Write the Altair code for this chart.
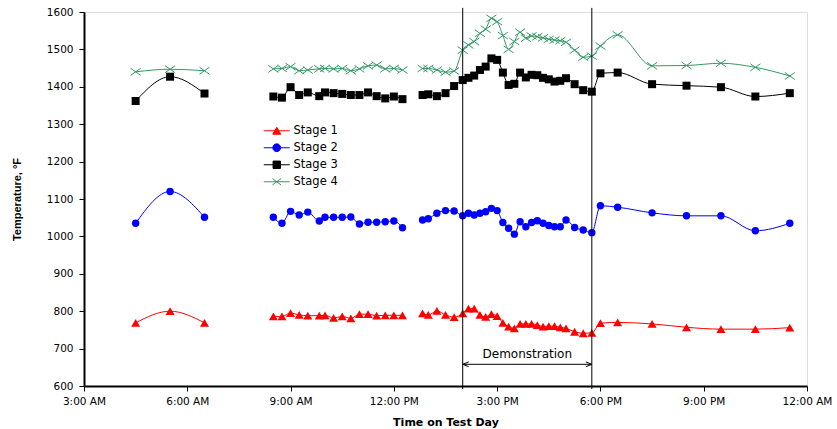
import altair as alt
import pandas as pd

# ---------------- data ----------------
stages = ["Stage 1", "Stage 2", "Stage 3", "Stage 4"]
colors = ["#FF0000", "#0000FF", "#000000", "#339966"]

times_a = ["04:30", "05:30", "06:30"]
times_b = ["08:30", "08:45", "09:00", "09:15", "09:30", "09:50", "10:00", "10:15",
           "10:30", "10:45", "11:00", "11:15", "11:30", "11:45", "12:00", "12:15"]
times_c = ["12:50", "13:00", "13:15", "13:30", "13:45", "14:00", "14:10", "14:20",
           "14:30", "14:40", "14:50", "15:00", "15:10", "15:20", "15:30", "15:40",
           "15:50", "16:00", "16:10", "16:20", "16:30", "16:40", "16:50", "17:00",
           "17:15", "17:30", "17:45", "18:00", "18:30", "19:30", "20:30", "21:30",
           "22:30", "23:30"]

s1_a = [769, 800, 769]
s1_b = [786, 786, 795, 790, 788, 788, 789, 782, 786, 781, 792, 792, 788, 789, 789, 789]
s1_c = [794, 790, 801, 790, 784, 794, 807, 807, 790, 785, 792, 787, 769, 759, 754, 766,
        766, 766, 763, 759, 760, 760, 757, 754, 745, 741, 742, 768, 770, 766, 757, 752,
        752, 756]

s2_a = [1035, 1120, 1051]
s2_b = [1051, 1035, 1067, 1057, 1065, 1041, 1051, 1051, 1051, 1052, 1033, 1038, 1038,
        1039, 1041, 1023]
s2_c = [1044, 1047, 1062, 1069, 1068, 1055, 1062, 1057, 1062, 1066, 1075, 1069, 1037,
        1022, 1006, 1039, 1026, 1037, 1042, 1035, 1029, 1026, 1026, 1044, 1024, 1017,
        1010, 1082, 1078, 1063, 1055, 1055, 1015, 1035]

s3_a = [1362, 1427, 1382]
s3_b = [1374, 1371, 1399, 1378, 1385, 1375, 1385, 1383, 1381, 1378, 1378, 1385, 1375,
        1369, 1374, 1367]
s3_c = [1378, 1380, 1375, 1383, 1402, 1418, 1424, 1430, 1445, 1454, 1476, 1472, 1438,
        1405, 1408, 1438, 1425, 1432, 1431, 1424, 1420, 1414, 1416, 1423, 1407, 1391,
        1387, 1436, 1438, 1407, 1403, 1399, 1374, 1383]

s4_a = [1440, 1447, 1443]
s4_b = [1448, 1449, 1454, 1443, 1445, 1448, 1449, 1448, 1449, 1443, 1448, 1456, 1458,
        1448, 1449, 1445]
s4_c = [1449, 1449, 1445, 1439, 1442, 1498, 1512, 1521, 1543, 1554, 1583, 1574, 1537,
        1500, 1521, 1546, 1530, 1536, 1534, 1531, 1527, 1525, 1523, 1519, 1498, 1479,
        1482, 1509, 1539, 1456, 1457, 1463, 1452, 1429]

demo_start = "14:00"
demo_end = "17:45"
demo_label = "Demonstration"

x_ticks = [3, 6, 9, 12, 15, 18, 21, 24]
y_ticks = [600, 700, 800, 900, 1000, 1100, 1200, 1300, 1400, 1500, 1600]


def hrs(t):
    h, m = t.split(":")
    return int(h) + int(m) / 60.0


series = {
    "Stage 1": [s1_a, s1_b, s1_c],
    "Stage 2": [s2_a, s2_b, s2_c],
    "Stage 3": [s3_a, s3_b, s3_c],
    "Stage 4": [s4_a, s4_b, s4_c],
}
rows = []
for st, segs in series.items():
    for seg_i, (tl, vl) in enumerate(zip([times_a, times_b, times_c], segs)):
        for t, v in zip(tl, vl):
            rows.append({"hour": hrs(t), "temp": v, "stage": st, "seg": seg_i})
df = pd.DataFrame(rows)

demo_df = pd.DataFrame({"start": [hrs(demo_start)], "end": [hrs(demo_end)],
                        "mid": [(hrs(demo_start) + hrs(demo_end)) / 2],
                        "label": [demo_label]})

# ---------------- chart ----------------
W, H = 723, 374
FONT = "DejaVu Sans"

x_scale = alt.Scale(domain=[3, 24], nice=False, zero=False)
y_scale = alt.Scale(domain=[600, 1600], nice=False, zero=False)

x_axis = alt.Axis(
    values=x_ticks,
    labelExpr="timeFormat(datetime(2000, 0, 1, datum.value, 0), '%-I:%M %p')",
    title="Time on Test Day", titleFontWeight="bold", titleFontSize=11,
    titleFont=FONT, titleY=36, titleBaseline="middle",
    labelFont=FONT, labelFontSize=10.5, labelPadding=5, labelColor="black",
    tickSize=5, tickColor="black", domainColor="black", domainWidth=2,
    grid=False, labelFlush=False, labelOverlap=False)
y_axis = alt.Axis(
    values=y_ticks, format="d",
    title="Temperature, °F", titleFontWeight="bold", titleFontSize=11,
    titleFont="Liberation Sans", titleX=-66.5, titleY=187, titleAngle=-90,
    titleAlign="center", titleBaseline="middle",
    labelFont=FONT, labelFontSize=10.5, labelPadding=6, labelColor="black",
    tickSize=5, tickColor="black", domainColor="black", domainWidth=2,
    grid=False, labelOverlap=False)

x_enc = alt.X("hour:Q", scale=x_scale, axis=x_axis)
y_enc = alt.Y("temp:Q", scale=y_scale, axis=y_axis)

# plotted markers
marker_shapes = ["triangle-up", "circle", "square", "M-1,-0.7L1,0.7M1,-0.7L-1,0.7"]
marker_sizes = [81, 55, 64, 100]
marker_filled = [True, True, True, False]

# legend symbols: line segment + marker
legend_shapes = [
    "M-3,0H3M0,-0.8L0.92,0.8H-0.92Z",
    "M-3,0H3M-0.9,0A0.9,0.9,0,1,0,0.9,0A0.9,0.9,0,1,0,-0.9,0Z",
    "M-3,0H3M-0.85,-0.85H0.85V0.85H-0.85Z",
    "M-3,0H3M-1,-0.75L1,0.75M1,-0.75L-1,0.75",
]
legend_fills = ["#FF0000", "#0000FF", "#000000", "transparent"]

layers = []
for st, col in zip(stages, colors):
    layers.append(
        alt.Chart(df).transform_filter(alt.datum.stage == st).mark_line(
            interpolate="monotone", strokeWidth=1, color=col
        ).encode(x=x_enc, y=y_enc, detail="seg:N")
    )
for st, col, shp, sz, fl in zip(stages, colors, marker_shapes, marker_sizes,
                                marker_filled):
    layers.append(
        alt.Chart(df).transform_filter(alt.datum.stage == st).mark_point(
            shape=shp, size=sz, filled=fl, color=col, strokeWidth=1, opacity=1
        ).encode(x=x_enc, y=y_enc)
    )

legend = alt.Legend(title=None, orient="none", legendX=187, legendY=113,
                    symbolSize=75, symbolStrokeWidth=1, symbolOpacity=1,
                    labelFont=FONT, labelFontSize=11.5, labelColor="black",
                    labelOffset=11, rowPadding=4, padding=0)
legend_layer = alt.Chart(df).transform_filter("false").mark_point(
    strokeWidth=1, opacity=1).encode(
    x=x_enc, y=y_enc,
    stroke=alt.Stroke("stage:N", scale=alt.Scale(domain=stages, range=colors),
                      legend=legend),
    fill=alt.Fill("stage:N", scale=alt.Scale(domain=stages, range=legend_fills),
                  legend=legend),
    shape=alt.Shape("stage:N", scale=alt.Scale(domain=stages, range=legend_shapes),
                    legend=legend),
)
layers.append(legend_layer)

demo_base = alt.Chart(demo_df)
xs = alt.X("start:Q", scale=x_scale, axis=x_axis)
xe = alt.X("end:Q", scale=x_scale, axis=x_axis)
xm = alt.X("mid:Q", scale=x_scale, axis=x_axis)


def yd(v):
    return alt.YDatum(v, scale=y_scale, axis=y_axis)


rule_start = demo_base.mark_rule(color="black", strokeWidth=1).encode(
    x=xs, y=yd(1611), y2=alt.datum(592))
rule_end = demo_base.mark_rule(color="black", strokeWidth=1).encode(
    x=xe, y=yd(1611), y2=alt.datum(592))
arrow = demo_base.mark_rule(color="black", strokeWidth=1).encode(
    x=xs, x2="end:Q", y=yd(658))
head_l = demo_base.mark_point(shape="M0,0L2,-0.8M0,0L2,0.8", size=36, filled=False,
                              color="black", strokeWidth=1, opacity=1).encode(
    x=xs, y=yd(658))
head_r = demo_base.mark_point(shape="M0,0L-2,-0.8M0,0L-2,0.8", size=36, filled=False,
                              color="black", strokeWidth=1, opacity=1).encode(
    x=xe, y=yd(658))
text = demo_base.mark_text(font=FONT, fontSize=12, color="black",
                           baseline="middle", align="center").encode(
    x=xm, y=yd(685), text="label:N")
layers += [rule_start, rule_end, arrow, head_l, head_r, text]

chart = alt.layer(*layers).properties(
    width=W, height=H,
    autosize=alt.AutoSizeParams(type="none"),
    padding={"left": 84, "top": 12, "right": 30, "bottom": 43},
).configure_view(
    stroke="#808080", strokeWidth=1
).configure(background="white")

chart.save("out.html", embed_options={"renderer": "svg", "actions": False})
